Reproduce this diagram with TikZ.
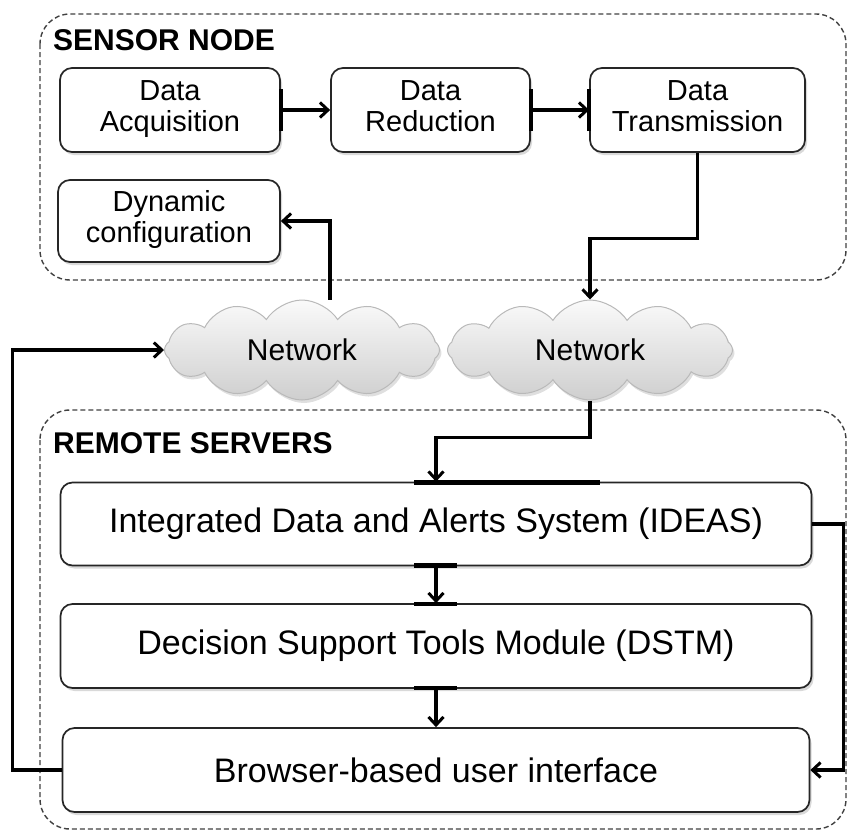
\documentclass[tikz,border=0pt]{standalone}
\usepackage{fontspec}
\setmainfont{Liberation Sans}
\usetikzlibrary{shapes.symbols,shadows,arrows.meta}
\newcommand{\twolines}[2]{\raisebox{-4pt}{\begin{tabular}{@{}c@{}}#1\\#2\end{tabular}}}
\begin{document}
\begin{tikzpicture}[x=1pt,y=-1pt,
  box/.style={draw=black!85, line width=1.7pt, rounded corners=12pt, fill=white, align=center, inner sep=0pt,
    drop shadow={shadow xshift=2pt, shadow yshift=-3pt, opacity=0.3}},
  smallbox/.style={box, font=\fontsize{29}{31}\selectfont},
  bigbox/.style={box, font=\fontsize{34}{40}\selectfont, minimum width=751pt},
  grp/.style={draw=black!75, dash pattern=on 5pt off 3pt, line width=1.4pt, rounded corners=30pt},
  grplabel/.style={font=\bfseries\fontsize{30}{36}\selectfont, anchor=west, inner sep=0pt},
  net/.style={cloud, cloud puffs=12, cloud puff arc=115, cloud ignores aspect, draw=gray!55, line width=1pt,
    top color=gray!4, bottom color=gray!38, inner sep=0pt, font=\fontsize{30}{36}\selectfont,
    drop shadow={shadow xshift=2pt, shadow yshift=-3pt, opacity=0.25}},
  arr/.style={line width=3.2pt, -{Straight Barb[length=8pt,width=15pt,line width=3pt]}},
  bar/.style={line width=4.5pt}
]
\useasboundingbox (0,0) rectangle (849,831);

% group frames
\draw[grp] (40,14) rectangle (846,280);
\draw[grp] (40,410) rectangle (846,829);
\node[grplabel] (lsn) at (53,40) {SENSOR NODE};
\node[grplabel] (lrs) at (53,443) {REMOTE SERVERS};

% sensor node boxes
\node[smallbox, minimum width=220pt, minimum height=84pt] (da) at (170,110) {\twolines{Data}{Acquisition}};
\node[smallbox, minimum width=199pt, minimum height=84pt] (dr) at (430.5,110) {\twolines{Data}{Reduction}};
\node[smallbox, minimum width=215pt, minimum height=84pt] (dt) at (697.5,110) {\twolines{Data}{Transmission}};
\node[smallbox, minimum width=222pt, minimum height=82pt] (dc) at (169,221) {\twolines{Dynamic}{configuration}};

% clouds
\node[net, minimum width=275pt, minimum height=100pt] (n1) at (302,350) {Network};
\node[net, minimum width=285pt, minimum height=100pt] (n2) at (590,350) {Network};

% remote server boxes
\node[bigbox, minimum height=83pt] (ideas) at (436,524) {Integrated Data and Alerts System (IDEAS)};
\node[bigbox, minimum height=84pt] (dstm) at (436,646) {Decision Support Tools Module (DSTM)};
\node[bigbox, minimum height=84pt, minimum width=747pt] (bui) at (436,770) {Browser-based user interface};

% attachment bars
\draw[bar] ([yshift=-21pt]da.east) -- ([yshift=21pt]da.east);
\draw[bar] ([yshift=-21pt]dr.east) -- ([yshift=21pt]dr.east);
\draw[bar] ([yshift=-21pt]dt.west) -- ([yshift=21pt]dt.west);
\draw[bar] (414,482.5) -- (600,482.5);
\draw[bar] (414,565.5) -- (457,565.5);
\draw[bar] (414,604) -- (457,604);
\draw[bar] (414,688) -- (457,688);

% connectors
\coordinate (k1) at (330,216);
\draw[arr] (da.east) -- (dr.west);
\draw[arr] (dr.east) -- (dt.west);
\draw[arr] (dt.south) -- ++(0,86) -| (n2.north);
\draw[arr] (n1.north -| k1) |- (dc.east);
\draw[arr] (n2.south) -- ++(0,37) -| (ideas.north);
\draw[arr] (ideas.south) -- (dstm.north);
\draw[arr] (dstm.south) -- (bui.north);
\draw[arr] (ideas.east) -- ++(31,0) |- (bui.east);
\draw[arr] (bui.west) -- ++(-49,0) |- (n1.west);
\end{tikzpicture}
\end{document}
